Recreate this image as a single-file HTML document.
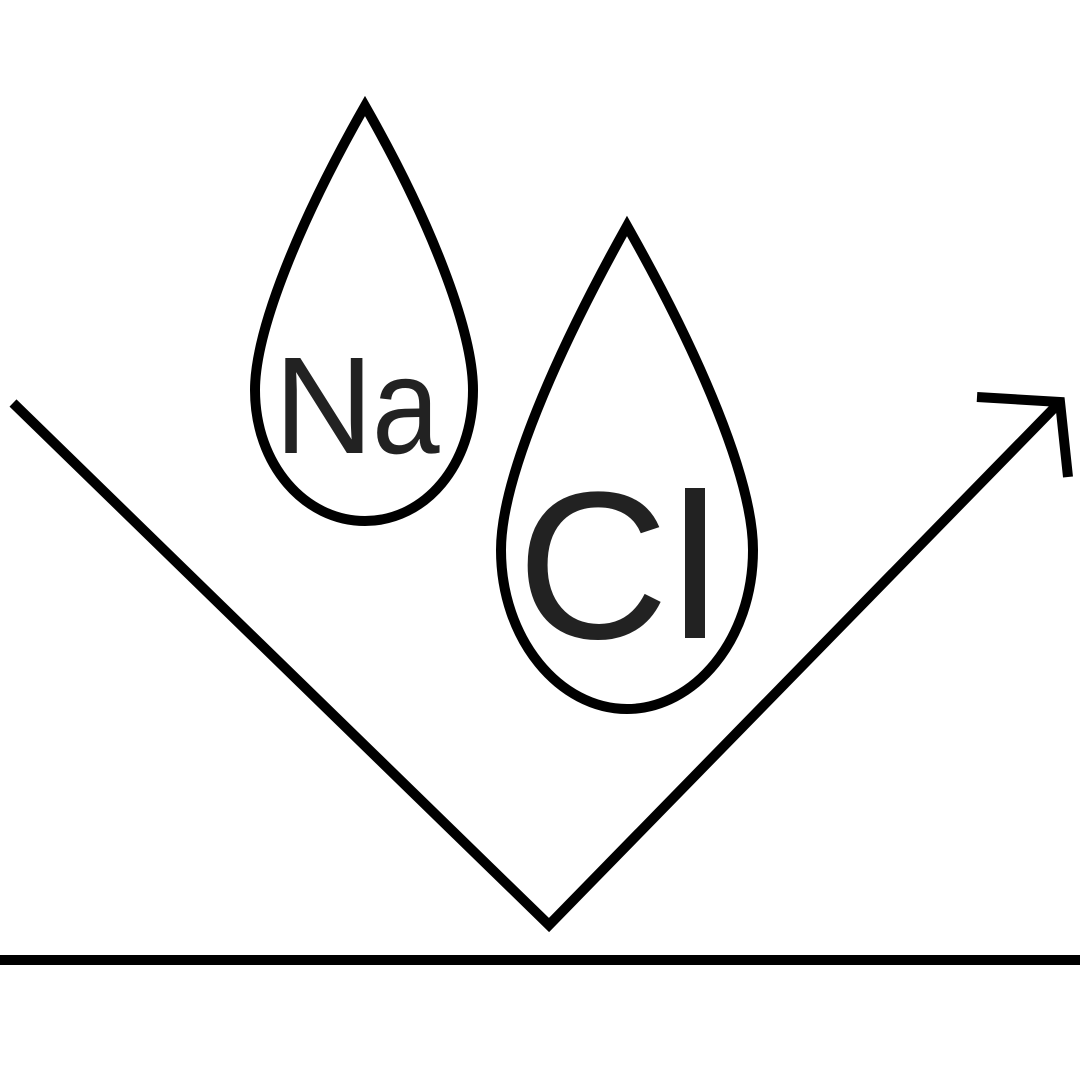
<!DOCTYPE html>
<html><head><meta charset="utf-8"><style>html,body{margin:0;padding:0;background:#fff}</style></head>
<body>
<svg width="1080" height="1080" viewBox="0 0 1080 1080" xmlns="http://www.w3.org/2000/svg">
<rect width="1080" height="1080" fill="#fff"/>
<g fill="none" stroke="#000" stroke-width="10">
<path d="M365,106 C300,220 255,330 255,390 C255,465 305,521 365,521 C425,521 473,465 473,390 C473,330 430,220 365,106 Z"/>
<path d="M627,226 C555,355 501,480 501,550 C501,640 560,709 627,709 C694,709 753,640 753,550 C753,480 700,355 627,226 Z"/>
<polyline points="13,403 549,925 1057,405"/>
<polyline points="977,397 1060,402 1068,477"/>
<line x1="0" y1="960" x2="1080" y2="960" stroke-width="10"/>
</g>
<g font-family="Liberation Sans, sans-serif" fill="#222">
<text font-size="138" transform="translate(274,453)">N</text>
<text font-size="138" transform="translate(372,453) scale(0.88,1)">a</text>
<text font-size="210" transform="translate(517,638)">C</text>
<rect x="685" y="488" width="20" height="150"/>
</g>
</svg>
</body></html>
